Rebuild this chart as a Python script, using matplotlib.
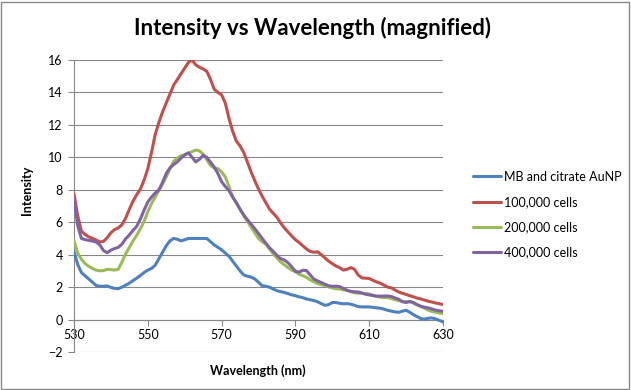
import matplotlib
matplotlib.use("Agg")
import matplotlib.pyplot as plt
import matplotlib.patches as mpatches
import numpy as np

# Spectra, 1 nm steps from 530 to 630 nm
wavelength = np.arange(530, 631)

mb_citrate = [
    4.2, 3.4, 2.9, 2.7, 2.5, 2.3, 2.1, 2.05, 2.05, 2.07,
    1.98, 1.92, 1.9, 2.0, 2.12, 2.25, 2.4, 2.55, 2.72, 2.9,
    3.05, 3.15, 3.35, 3.75, 4.15, 4.55, 4.85, 5.0, 4.95, 4.85,
    4.92, 5.0, 5.0, 5.0, 5.0, 5.0, 5.0, 4.8, 4.6, 4.45,
    4.3, 4.1, 3.9, 3.6, 3.3, 3.0, 2.75, 2.67, 2.62, 2.5,
    2.3, 2.08, 2.05, 2.0, 1.88, 1.78, 1.72, 1.67, 1.6, 1.52,
    1.47, 1.4, 1.35, 1.27, 1.22, 1.17, 1.1, 0.98, 0.88, 0.92,
    1.05, 1.05, 1.0, 0.97, 0.98, 0.95, 0.88, 0.8, 0.78, 0.78,
    0.78, 0.75, 0.72, 0.7, 0.64, 0.57, 0.52, 0.47, 0.45, 0.52,
    0.57, 0.45, 0.3, 0.18, 0.06, 0.03, 0.08, 0.1, 0.04, -0.05,
    -0.15,
]
cells_100k = [
    7.75, 6.4, 5.45, 5.25, 5.1, 5.0, 4.9, 4.78, 4.82, 5.05,
    5.35, 5.55, 5.65, 5.85, 6.25, 6.8, 7.3, 7.7, 8.05, 8.6,
    9.3, 10.3, 11.4, 12.15, 12.8, 13.35, 13.9, 14.45, 14.8, 15.15,
    15.5, 15.85, 16.0, 15.7, 15.55, 15.45, 15.3, 14.8, 14.2, 14.0,
    13.85, 13.35, 12.4, 11.6, 11.0, 10.7, 10.3, 9.7, 9.1, 8.55,
    8.05, 7.6, 7.2, 6.8, 6.55, 6.3, 5.95, 5.65, 5.4, 5.15,
    4.92, 4.75, 4.55, 4.35, 4.2, 4.15, 4.18, 4.0, 3.8, 3.6,
    3.45, 3.3, 3.2, 3.05, 3.1, 3.2, 3.1, 2.75, 2.57, 2.55,
    2.53, 2.42, 2.32, 2.24, 2.12, 2.0, 1.95, 1.82, 1.7, 1.62,
    1.55, 1.47, 1.4, 1.32, 1.27, 1.2, 1.13, 1.08, 1.02, 0.98,
    0.93,
]
cells_200k = [
    4.85, 4.1, 3.72, 3.45, 3.28, 3.15, 3.05, 3.0, 3.02, 3.1,
    3.08, 3.05, 3.1, 3.55, 4.05, 4.45, 4.85, 5.2, 5.6, 6.05,
    6.65, 7.15, 7.55, 7.95, 8.35, 8.8, 9.3, 9.75, 9.95, 10.1,
    10.15, 10.25, 10.35, 10.45, 10.4, 10.2, 9.85, 9.5, 9.35, 9.3,
    9.1, 8.8, 8.2, 7.55, 7.2, 6.8, 6.4, 6.05, 5.7, 5.35,
    5.0, 4.8, 4.65, 4.35, 4.05, 3.8, 3.55, 3.38, 3.2, 3.05,
    2.95, 2.8, 2.7, 2.6, 2.45, 2.33, 2.22, 2.15, 2.1, 2.02,
    1.95, 1.9, 1.88, 1.83, 1.8, 1.72, 1.65, 1.62, 1.62, 1.6,
    1.58, 1.5, 1.42, 1.38, 1.36, 1.35, 1.3, 1.22, 1.17, 1.12,
    1.1, 1.09, 1.02, 0.9, 0.8, 0.7, 0.58, 0.5, 0.45, 0.4,
    0.37,
]
cells_400k = [
    7.45, 5.8, 5.0, 4.93, 4.88, 4.84, 4.78, 4.6, 4.25, 4.12,
    4.28, 4.38, 4.45, 4.65, 4.98, 5.22, 5.5, 5.75, 6.2, 6.75,
    7.25, 7.55, 7.8, 8.0, 8.45, 9.0, 9.35, 9.55, 9.72, 9.95,
    10.15, 10.28, 10.0, 9.72, 9.88, 10.12, 10.0, 9.7, 9.4, 9.0,
    8.5, 8.2, 7.95, 7.55, 7.2, 6.8, 6.45, 6.15, 5.88, 5.6,
    5.3, 5.0, 4.7, 4.42, 4.2, 3.95, 3.75, 3.67, 3.5, 3.25,
    2.98, 2.92, 3.04, 3.02, 2.75, 2.5, 2.38, 2.28, 2.18, 2.08,
    2.05, 2.06, 2.03, 1.92, 1.8, 1.74, 1.71, 1.7, 1.64, 1.56,
    1.52, 1.48, 1.45, 1.44, 1.45, 1.45, 1.42, 1.33, 1.25, 1.1,
    1.05, 1.12, 1.05, 0.92, 0.82, 0.76, 0.72, 0.65, 0.58, 0.54,
    0.51,
]

SERIES = [
    ("MB and citrate AuNP", mb_citrate, "#4F81BD"),
    ("100,000 cells", cells_100k, "#C0504D"),
    ("200,000 cells", cells_200k, "#9BBB59"),
    ("400,000 cells", cells_400k, "#8064A2"),
]

x_ticks = [530, 550, 570, 590, 610, 630]
y_ticks = list(range(-2, 17, 2))

GRID = "#878787"
FONT = ["Lato", "DejaVu Sans"]
plt.rcParams["font.family"] = FONT

W, H = 631, 390
fig = plt.figure(figsize=(W / 100, H / 100), dpi=100)
fig.patch.set_facecolor("white")

ax = fig.add_axes([74 / W, 1 - 352 / H, (443 - 74) / W, (352 - 60) / H])

for label, vals, color in SERIES:
    ax.plot(wavelength, vals, color=color, lw=2.2, label=label,
            solid_capstyle="round", solid_joinstyle="round", zorder=3)

ax.set_xlim(530, 630)
ax.set_ylim(-2, 16)
ax.set_xticks(x_ticks)
ax.set_yticks(y_ticks)
ax.grid(axis="y", color=GRID, lw=0.8, zorder=0)
ax.set_axisbelow(True)

for side in ("top", "right"):
    ax.spines[side].set_visible(False)
ax.spines["bottom"].set_position(("data", 0))
ax.spines["bottom"].set_color(GRID)
ax.spines["left"].set_color(GRID)
ax.spines["bottom"].set_linewidth(0.8)
ax.spines["left"].set_linewidth(0.8)
ax.tick_params(axis="both", direction="out", length=4, width=0.8,
               color=GRID, labelsize=9, labelcolor="black")
ax.tick_params(axis="x", pad=3)
ax.tick_params(axis="y", pad=4)

fig.text(313 / W, 1 - 28 / H, "Intensity vs Wavelength (magnified)",
         ha="center", va="center", fontsize=16, fontweight="bold")
fig.text(258 / W, 1 - 371 / H, "Wavelength (nm)", ha="center", va="center",
         fontsize=9, fontweight="bold")
fig.text(27 / W, 1 - 190 / H, "Intensity", ha="center", va="center",
         rotation=90, fontsize=9, fontweight="bold")

fig.legend(loc="center left", bbox_to_anchor=(473 / W, 1 - 214.5 / H),
           frameon=False, fontsize=9, handlelength=2.2, handletextpad=0.25,
           labelspacing=1.05, borderpad=0, borderaxespad=0)

fig.patches.append(mpatches.Rectangle((1 / W, 1 / H), (W - 3) / W, (H - 3) / H,
                                      transform=fig.transFigure, fill=False,
                                      edgecolor="#888888", lw=1))

fig.savefig("out.png", dpi=100)
